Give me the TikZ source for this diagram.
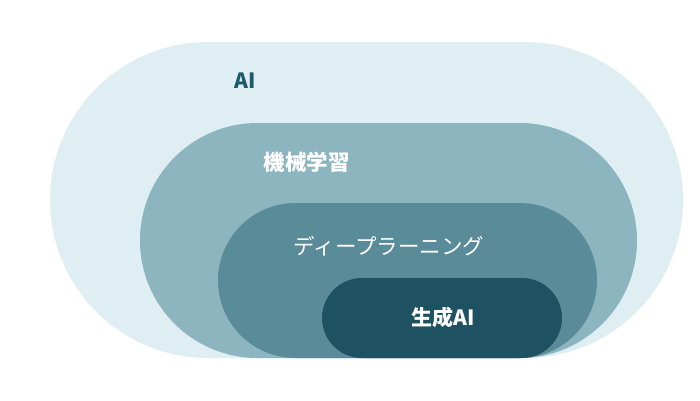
\documentclass[tikz,border=0pt]{standalone}
\usepackage{fontspec}
\newfontfamily\jp{Noto Sans CJK JP}
\definecolor{cAI}{HTML}{DFEEF2}
\definecolor{cML}{HTML}{8DB5C0}
\definecolor{cDL}{HTML}{5A8B98}
\definecolor{cGen}{HTML}{1E5262}
\definecolor{cAItext}{HTML}{1B5A68}
\tikzset{
  region/.style={draw=none, inner sep=0pt, rectangle},
  lbl/.style={font=\jp\fontsize{21.5pt}{24pt}\selectfont, inner sep=0pt, anchor=center},
}
\begin{document}
\begin{tikzpicture}[x=1pt,y=-1pt]
\useasboundingbox (0,0) rectangle (700,400);
\fill[white] (0,0) rectangle (700,400);
\node[region, fill=cAI, rounded corners=158pt, minimum width=633pt, minimum height=316pt] (ai) at (366.5,200) {};
\node[region, fill=cML, rounded corners=117.5pt, minimum width=497pt, minimum height=235pt] (ml) at (388.5,240.5) {};
\node[region, fill=cDL, rounded corners=77.5pt, minimum width=379pt, minimum height=155pt] (dl) at (407.5,280.5) {};
\node[region, fill=cGen, rounded corners=40pt, minimum width=240pt, minimum height=80pt] (gen) at (442,318) {};
\node[lbl, text=cAItext, font=\jp\bfseries\fontsize{21pt}{24pt}\selectfont] (tai) at (245,81) {AI};
\node[lbl, text=white, font=\jp\bfseries\fontsize{21.5pt}{24pt}\selectfont] (tml) at (306.5,162) {機械学習};
\node[lbl, text=white] (tdl) at (389,246) {ディープラーニング};
\node[lbl, text=white, font=\jp\bfseries\fontsize{21pt}{24pt}\selectfont] (tgen) at (443.5,317) {生成AI};
\end{tikzpicture}
\end{document}
